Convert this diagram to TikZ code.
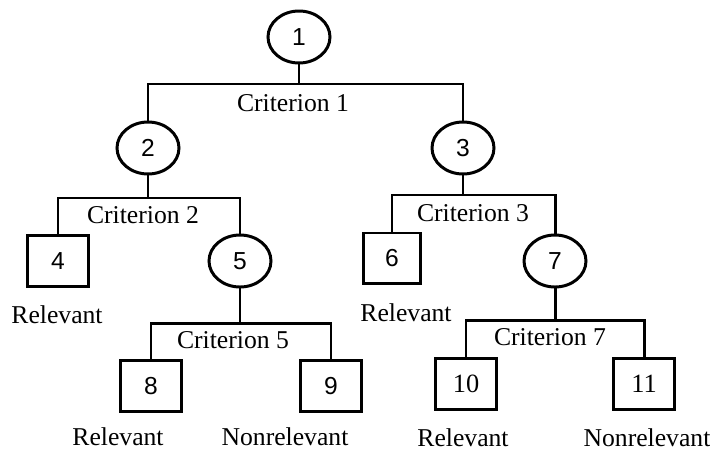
\documentclass[tikz,border=0pt]{standalone}
\usepackage{fontspec}
\setmainfont{Liberation Serif}
\newfontfamily\numfont{Liberation Sans}
\usetikzlibrary{shapes.geometric}
\begin{document}
\begin{tikzpicture}[line width=1.7pt,
    font=\fontsize{14.6}{16}\selectfont,
    test/.style={draw, ellipse, inner sep=0pt, minimum width=1.24cm, minimum height=1.04cm, font=\fontsize{14}{16}\selectfont\numfont},
    leaf/.style={draw, rectangle, inner sep=0pt, minimum width=1.22cm, minimum height=1.02cm, font=\fontsize{14}{16}\selectfont\numfont},
    crit/.style={inner sep=1pt},
    verdict/.style={inner sep=1pt}]
    \useasboundingbox (0,0) rectangle (14.2,9.02);
    % Nodes
    \node[test] (N1) at (5.98, 8.28) {1};
    \node[test] (N2) at (2.96, 6.06) {2};
    \node[test] (N3) at (9.26, 6.06) {3};
    \node[leaf] (N4) at (1.16, 3.80) {4};
    \node[test] (N5) at (4.80, 3.80) {5};
    \node[leaf, minimum width=1.14cm, minimum height=1.0cm] (N6) at (7.84, 3.86) {6};
    \node[test] (N7) at (11.10, 3.80) {7};
    \node[leaf] (N8) at (3.02, 1.30) {8};
    \node[leaf] (N9) at (6.62, 1.30) {9};
    \node[leaf, font=\fontsize{15}{17}\selectfont\rmfamily] (N10) at (9.32, 1.34) {10};
    \node[leaf, font=\fontsize{15}{17}\selectfont\rmfamily] (N11) at (12.88, 1.34) {11};

    % Branch points
    \coordinate (B1) at (5.98, 7.34);
    \coordinate (B2) at (2.96, 5.06);
    \coordinate (B3) at (9.26, 5.12);
    \coordinate (B5) at (4.80, 2.56);
    \coordinate (B7) at (11.10, 2.62);

    % Branches
    \draw (N1) -- (B1);
    \draw (N2) |- (B1) -| (N3);
    \draw (N2) -- (B2);
    \draw (N4) |- (B2) -| (N5);
    \draw (N3) -- (B3);
    \draw (N6) |- (B3) -| (N7);
    \draw (N5) -- (B5);
    \draw (N8) |- (B5) -| (N9);
    \draw (N7) -- (B7);
    \draw (N10) |- (B7) -| (N11);

    % Labels
    \node[crit] (C1) at (5.86, 6.96) {Criterion 1};
    \node[crit] (C2) at (2.86, 4.72) {Criterion 2};
    \node[crit] (C3) at (9.46, 4.76) {Criterion 3};
    \node[crit] (C5) at (4.66, 2.22) {Criterion 5};
    \node[crit] (C7) at (11.00, 2.28) {Criterion 7};
    \node[verdict] (R4) at (1.14, 2.72) {Relevant};
    \node[verdict] (R6) at (8.12, 2.76) {Relevant};
    \node[verdict] (R8) at (2.36, 0.28) {Relevant};
    \node[verdict] (R9) at (5.70, 0.28) {Nonrelevant};
    \node[verdict] (R10) at (9.26, 0.26) {Relevant};
    \node[verdict] (R11) at (12.94, 0.26) {Nonrelevant};
\end{tikzpicture}
\end{document}
